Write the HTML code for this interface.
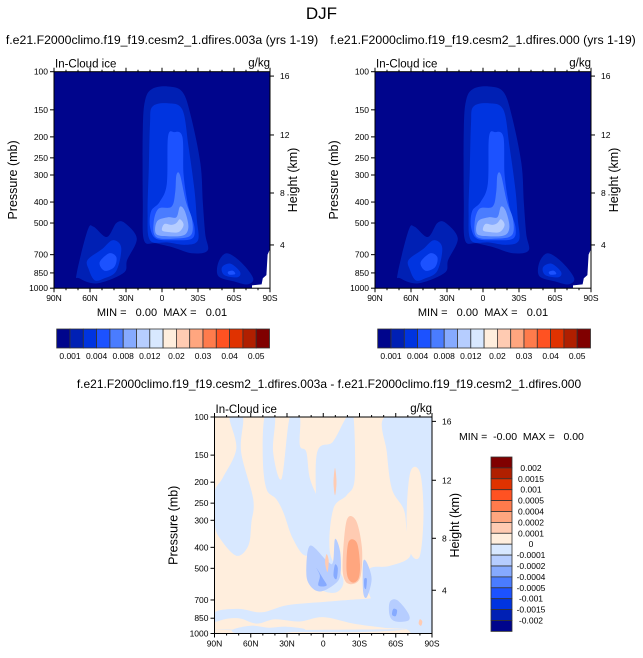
<!DOCTYPE html>
<html><head><meta charset="utf-8"><style>
body{margin:0;background:#fff}
svg{display:block;font-family:"Liberation Sans",sans-serif}
text{white-space:pre}
</style></head><body>
<svg id="fig" width="643" height="658" viewBox="0 0 643 658"></svg>
<script>
// ---- data ----
const colors=["#00058c","#0020b4","#0034e0","#1c52ff","#4a7cff","#86aaff","#b6cdff","#d8e8ff","#ffeedd","#ffcbb2","#ffa67f","#ff7b4c","#ff5222","#e03200","#b01f00","#800000"];
const topLevels=["0.001","0.002","0.004","0.006","0.008","0.01","0.012","0.015","0.02","0.025","0.03","0.035","0.04","0.045","0.05"];
const diffLevels=["0.002","0.0015","0.001","0.0005","0.0004","0.0002","0.0001","0","-0.0001","-0.0002","-0.0004","-0.0005","-0.001","-0.0015","-0.002"];
const presTicks=[100,150,200,250,300,400,500,700,850,1000];
const latTicks=[90,60,30,0,-30,-60,-90];
const latLabels=["90N","60N","30N","0","30S","60S","90S"];
const kmTicks=[16,12,8,4];
const kmPos=[0.011,0.283,0.551,0.791]; // fraction of axis
// contour regions for absolute panels: [level color index, [[lat,p],...]]
const absRegions=[
 [1,[[16,185],[14,135],[8,120],[-5,117],[-17,124],[-24,160],[-32,265],[-34,400],[-36,560],[-38,670],[-25,690],[-10,650],[5,620],[15,600],[16,400]]],
 [2,[[10,175],[8,145],[-5,140],[-17,150],[-22,220],[-27,350],[-29,480],[-30,600],[-20,630],[-5,615],[10,600],[12,450],[11,280]]],
 [3,[[-5,200],[-10,190],[-17,200],[-18,300],[-22,420],[-27,520],[-25,590],[-10,600],[5,590],[10,520],[9,440],[2,400],[-4,330]]],
 [4,[[-12,300],[-15,300],[-20,400],[-25,480],[-24,570],[-10,590],[5,580],[7,500],[3,430],[-8,420],[-11,360]]],
 [5,[[-15,420],[-19,440],[-22,520],[-18,570],[-5,575],[5,560],[4,490],[-5,470],[-12,470]]],
 [6,[[-15,480],[-18,510],[-14,550],[-5,550],[0,540],[-2,505],[-8,510],[-12,500]]],
 [1,[[71,850],[62,540],[57,520],[46,580],[38,500],[31,500],[21,590],[29,740],[32,850],[54,950],[69,900]]],
 [2,[[62,740],[50,660],[41,600],[34,650],[38,830],[48,900],[56,920],[61,820]]],
 [3,[[52,760],[44,690],[38,720],[40,800],[48,830]]],
 [1,[[-47,760],[-54,690],[-66,760],[-76,900],[-71,960],[-60,930],[-47,880]]],
 [2,[[-50,800],[-57,770],[-65,840],[-63,890],[-52,870]]],
 [3,[[-55,840],[-59,830],[-61,860],[-56,865]]]
];
const diffRegions=[
 [7,[[77.5,100],[66.5,100],[68,145],[58,239],[59.5,307],[62,393],[72,437],[86,360],[90,307],[90,223],[83,190],[72,140]]],
 [7,[[48.5,100],[40,100],[41.5,145],[34.5,193],[27.7,100],[19.4,100],[19.4,135],[14,145],[11,193],[2.8,256],[0,366],[14,437],[25,366],[33,276],[39,239],[47,215],[50,156]]],
 [7,[[-19.4,100],[-25,100],[-26,193],[-19.4,230],[-8.3,266],[-5.5,422],[-16.6,561],[-11,645],[2.8,623],[11,522],[5.5,360],[5.5,150],[-8,130]]],
 [7,[[-51,100],[-90,100],[-90,956],[-69,956],[-55,800],[-41.5,717],[-36,587],[-38.8,500],[-55,487],[-72,437],[-69,330],[-66.5,266],[-56.8,215],[-52.6,145]]],
 [8,[[-72,180],[-80,180],[-83,276],[-80,437],[-72,422],[-69,300]]],
 [7,[[90,800],[70,770],[51,798],[30,740],[0,715],[-35,692],[-55,692],[-69,956],[90,956]]],
 [8,[[85,870],[70,850],[55,900],[40,860],[20,880],[0,840],[-25,900],[-50,940],[-60,956],[90,956]]],
 [7,[[75,960],[60,920],[45,940],[30,930],[15,960],[40,1000],[70,1000]]],
 [6,[[11,393],[-2.8,460],[-8,470],[-9.7,366],[-14,420],[-14,541],[-8,600],[2.8,640],[11,600],[14,522]]],
 [6,[[-33,470],[-36,470],[-40,560],[-36,680],[-33,640]]],
 [6,[[-55,717],[-61,700],[-70,800],[-70.6,870],[-60,880],[-55,827]]],
 [5,[[2.8,541],[5.5,500],[0,560],[-2.8,600],[4,600]]],
 [5,[[-9.7,480],[-12,500],[-11,560],[-8.5,540]]],
 [5,[[-34,560],[-36,560],[-35.5,620],[-34,610]]],
 [5,[[-58,770],[-61,780],[-60,830],[-57,820]]],
 [9,[[-19.4,300],[-27,300],[-32,400],[-31,541],[-25,590],[-18,570],[-16,470]]],
 [10,[[-20.8,380],[-27.7,380],[-30.4,480],[-29,560],[-23.5,580],[-19.4,520]]],
 [9,[[-9.7,172],[-11,200],[-9.7,230],[-8.5,200]]],
 [9,[[-2.8,430],[-4.5,460],[-3.5,520],[-1.5,470]]],
 [9,[[-80,860],[-82,880],[-81,920],[-79,900]]]
];
const panels=[
 {x0:54,y0:71.7,W:216,H:216.5,title:"f.e21.F2000climo.f19_f19.cesm2_1.dfires.003a (yrs 1-19)",tx:162,bg:0,regions:absRegions,topo:true},
 {x0:375,y0:71.7,W:216,H:216.5,title:"f.e21.F2000climo.f19_f19.cesm2_1.dfires.000 (yrs 1-19)",tx:483,bg:0,regions:absRegions,topo:true},
 {x0:214.5,y0:417,W:217.5,H:216.5,title:"f.e21.F2000climo.f19_f19.cesm2_1.dfires.003a - f.e21.F2000climo.f19_f19.cesm2_1.dfires.000",tx:329,bg:8,regions:diffRegions,topo:false}
];
const topo=[[-51,1000],[-75,1000],[-75,970],[-83,960],[-84,900],[-87,870],[-88,700],[-90,660],[-90,1000]];
// ---- render ----
const NS="http://www.w3.org/2000/svg",svg=document.getElementById("fig");
function el(t,a,p){const e=document.createElementNS(NS,t);for(const k in a)e.setAttribute(k,a[k]);(p||svg).appendChild(e);return e;}
function txt(s,a,p){const e=el("text",a,p);e.textContent=s;return e;}
function smooth(pts){let d="";const n=pts.length;for(let i=0;i<n;i++){const p0=pts[(i-1+n)%n],p1=pts[i],p2=pts[(i+1)%n],p3=pts[(i+2)%n];if(i==0)d+="M"+p1[0].toFixed(1)+","+p1[1].toFixed(1);const c1=[p1[0]+(p2[0]-p0[0])/6,p1[1]+(p2[1]-p0[1])/6],c2=[p2[0]-(p3[0]-p1[0])/6,p2[1]-(p3[1]-p1[1])/6];d+="C"+c1.map(v=>v.toFixed(1))+" "+c2.map(v=>v.toFixed(1))+" "+p2.map(v=>v.toFixed(1));}return d+"Z";}
txt("DJF",{x:321.5,y:19,"font-size":17,"text-anchor":"middle"});
panels.forEach((P,pi)=>{
 const g=el("g",{});
 
 
 const xs=lat=>P.x0+(90-lat)/180*P.W, yp=p=>P.y0+Math.log10(p/100)*P.H;
 const cid="clip"+pi;const cp=el("clipPath",{id:cid},g);el("rect",{x:P.x0,y:P.y0,width:P.W,height:P.H},cp);
 const bg=el("rect",{x:P.x0,y:P.y0,width:P.W,height:P.H,fill:colors[P.bg]},g);
 
 const cg=el("g",{"clip-path":"url(#"+cid+")"},g);
 P.regions.forEach(r=>{const path=el("path",{d:smooth(r[1].map(q=>[xs(q[0]),yp(q[1])])),fill:colors[r[0]]},cg);
  
  });
 if(P.topo){const tp=el("polygon",{points:topo.map(q=>xs(q[0])+","+yp(q[1])).join(" "),fill:"#fff"},cg);
  }
 el("rect",{x:P.x0,y:P.y0,width:P.W,height:P.H,fill:"none",stroke:"#000","stroke-width":1},g);
 const t=txt(P.title,{x:P.tx,y:pi<2?44:388,"font-size":pi<2?12.3:12,"text-anchor":"middle"},g);
 
 const l=txt("In-Cloud ice",{x:P.x0+1,y:P.y0-4,"font-size":11.5},g);
 
 const u=txt("g/kg",{x:P.x0+P.W,y:P.y0-5,"font-size":11.5,"text-anchor":"end"},g);
 
 presTicks.forEach(p=>{const y=yp(p);el("line",{x1:P.x0-4,x2:P.x0,y1:y,y2:y,stroke:"#000"},g);
  const tl=txt(p,{x:P.x0-6,y:y+3,"font-size":8.5,"text-anchor":"end"},g);
  });
 for(let lt=90;lt>=-90;lt-=10){const x=xs(lt);const maj=lt%30==0;
  el("line",{x1:x,x2:x,y1:P.y0+P.H,y2:P.y0+P.H+(maj?4:2),stroke:"#000"},g);
  el("line",{x1:x,x2:x,y1:P.y0,y2:P.y0-(maj?4:2),stroke:"#000"},g);}
 latTicks.forEach((lt,i)=>{const tl=txt(latLabels[i],{x:xs(lt),y:P.y0+P.H+13,"font-size":8.5,"text-anchor":"middle"},g);
  });
 kmTicks.forEach((k,i)=>{const y=P.y0+2+kmPos[i]*P.H;el("line",{x1:P.x0+P.W,x2:P.x0+P.W+4,y1:y,y2:y,stroke:"#000"},g);
  const tl=txt(k,{x:P.x0+P.W+10,y:y+3,"font-size":8.5},g);
  });
 const yl=txt("Pressure (mb)",{transform:`translate(${P.x0-37},${P.y0+P.H/2}) rotate(-90)`,"font-size":12.5,"text-anchor":"middle"},g);
 
 const hl=txt("Height (km)",{transform:`translate(${P.x0+P.W+27},${P.y0+P.H/2}) rotate(-90)`,"font-size":12.5,"text-anchor":"middle"},g);
 
 if(pi<2){
  const mm=txt("MIN =   0.00  MAX =   0.01",{x:P.x0+108,y:316,"font-size":11,"text-anchor":"middle"},g);
  
  const cb=el("g",{},g);
  const bx=P.x0+2.7,bw=13.3;
  colors.forEach((c,i)=>{el("rect",{x:bx+i*bw,y:329,width:bw,height:19,fill:c,stroke:"#333","stroke-width":0.8},cb);});
  topLevels.forEach((s,i)=>{if(i%2==0){const tl=txt(s,{x:bx+(i+1)*bw,y:359,"font-size":8.5,"text-anchor":"middle"},cb);
   }});
 }else{
  const mm=txt("MIN =  -0.00  MAX =   0.00",{x:459,y:440,"font-size":10.5},g);
  
  const cb=el("g",{},g);
  const bh=10.9;
  colors.slice().reverse().forEach((c,i)=>{el("rect",{x:491,y:457+i*bh,width:21,height:bh,fill:c,stroke:"#333","stroke-width":0.8},cb);});
  diffLevels.forEach((s,i)=>{const tl=txt(s,{x:531,y:457+(i+1)*bh+3,"font-size":8.5,"text-anchor":"middle"},cb);
   });
 }
});
</script>
</body></html>
